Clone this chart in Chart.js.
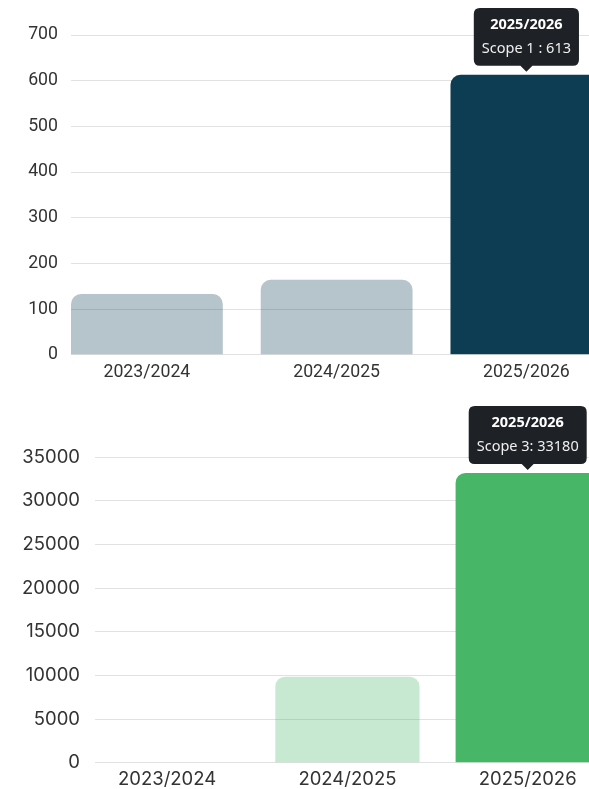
<!DOCTYPE html>
<html>
<head>
<meta charset="utf-8">
<script src="https://cdn.jsdelivr.net/npm/chart.js@4.4.1/dist/chart.umd.min.js"></script>
<style>
  html, body { margin: 0; padding: 0; background: #fff; overflow: hidden; }
  .box { position: absolute; left: 0; width: 589px; }
  #top_box { top: 0; height: 390px; }
  #bottom_box { top: 400px; height: 397px; }
</style>
</head>
<body>
<div class="box" id="top_box"><canvas id="scope1_canvas"></canvas></div>
<div class="box" id="bottom_box"><canvas id="scope3_canvas"></canvas></div>
<script>
// values
var periods = ["2023/2024", "2024/2025", "2025/2026"];
var scope1 = [133, 164, 613];
var scope3 = [0, 9860, 33180];
var scope1_ticks = [0, 100, 200, 300, 400, 500, 600, 700];
var scope3_ticks = [0, 5000, 10000, 15000, 20000, 25000, 30000, 35000];
var selected = 2;

function to_points(values) {
    return values.map(function (v, i) { return { x: i, y: v }; });
}

function make_config(label, values, ticks, colors, opts) {
    var bg = periods.map(function (p, i) { return i == selected ? colors[0] : colors[1]; });
    return {
        type: "bar",
        data: {
            datasets: [{
                label: label,
                data: to_points(values),
                backgroundColor: bg,
                borderRadius: 10,
                borderSkipped: "bottom",
                barPercentage: 1,
                categoryPercentage: 0.8
            }]
        },
        options: {
            responsive: true,
            maintainAspectRatio: false,
            animation: false,
            events: [],
            layout: { padding: { top: opts.top, left: 0, right: 0, bottom: 0 } },
            scales: {
                x: {
                    type: "linear",
                    offset: false,
                    min: -0.4,
                    max: opts.xmax,
                    grid: { display: false, drawTicks: false },
                    border: { display: false },
                    afterBuildTicks: function (s) {
                        s.ticks = periods.map(function (p, i) { return { value: i }; });
                    },
                    ticks: {
                        autoSkip: false,
                        maxRotation: 0,
                        padding: opts.xpad,
                        color: "#333",
                        font: { family: opts.font, size: opts.size },
                        callback: function (v) { return periods[v]; }
                    }
                },
                y: {
                    min: ticks[0],
                    max: ticks[ticks.length - 1],
                    grid: { color: "#e1e1e1", drawTicks: false },
                    border: { display: false },
                    afterFit: function (s) { s.width = opts.left; },
                    ticks: {
                        stepSize: ticks[1] - ticks[0],
                        padding: opts.ypad,
                        color: "#333",
                        font: { family: opts.font, size: opts.size },
                        callback: function (v) { return String(v); }
                    }
                }
            },
            plugins: {
                legend: { display: false },
                tooltip: {
                    yAlign: "bottom",
                    xAlign: "center",
                    backgroundColor: "#1e2126",
                    titleColor: "#fff",
                    bodyColor: "#f0f0f0",
                    titleFont: { family: "Noto Sans", size: 14.5, weight: "bold" },
                    bodyFont: { family: "Noto Sans", size: 14.5 },
                    titleAlign: "center",
                    bodyAlign: "center",
                    padding: 8,
                    titleMarginBottom: 7,
                    cornerRadius: 6,
                    caretSize: 6,
                    caretPadding: 3,
                    displayColors: false,
                    callbacks: {
                        title: function (items) { return periods[items[0].dataIndex]; },
                        label: function (c) { return c.dataset.label + ": " + c.parsed.y; }
                    }
                }
            }
        }
    };
}

var chart1 = new Chart(document.getElementById("scope1_canvas").getContext("2d"),
    make_config("Scope 1 ", scope1, scope1_ticks, ["#0c3d52", "rgba(12, 61, 82, 0.3)"],
        { top: 35, left: 71, xmax: 2.33, xpad: 7, ypad: 13, font: "Roboto", size: 17.7 }));

var chart2 = new Chart(document.getElementById("scope3_canvas").getContext("2d"),
    make_config("Scope 3", scope3, scope3_ticks, ["#47b767", "rgba(71, 183, 103, 0.3)"],
        { top: 57, left: 95, xmax: 2.34, xpad: 6, ypad: 15, font: "Inter", size: 18.5 }));

[chart1, chart2].forEach(function (c) {
    c.tooltip.setActiveElements([{ datasetIndex: 0, index: selected }], { x: 0, y: 0 });
    c.update();
});
</script>
</body>
</html>
